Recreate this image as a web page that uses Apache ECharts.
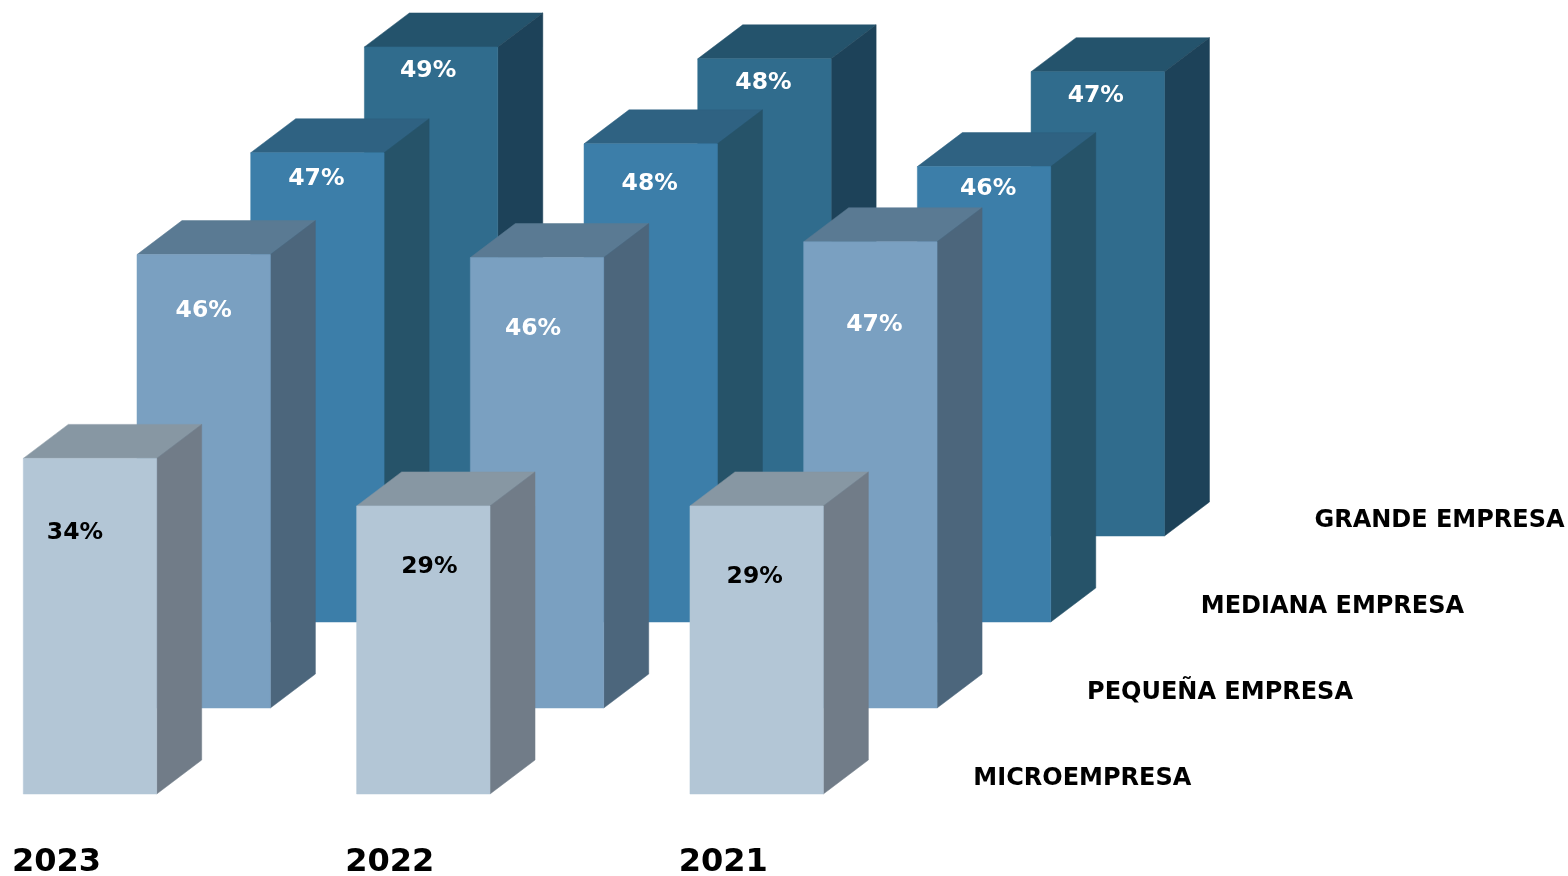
<!DOCTYPE html>
<html>
<head>
<meta charset="utf-8">
<style>html,body{margin:0;padding:0;background:#fff}#c{width:1568px;height:876px}</style>
<script src="https://cdn.jsdelivr.net/npm/echarts@6/dist/echarts.min.js"></script>
</head>
<body>
<div id="c"></div>
<script>
var years = ['2023', '2022', '2021'];
var microempresa = [33.9, 29.1, 29.1];
var pequena = [45.8, 45.5, 47.1];
var mediana = [47.4, 48.3, 46.0];
var grande = [49.4, 48.2, 46.9];

var seriesMeta = [
  {name: 'GRANDE EMPRESA', values: grande, depth: 3, front: '#306C8D', side: '#1D4259', top: '#24536C', text: '#fff',
   labelShift: [[-3, 24], [-1, 24], [-2, 24]]},
  {name: 'MEDIANA EMPRESA', values: mediana, depth: 2, front: '#3C7EA9', side: '#265369', top: '#2F6282', text: '#fff',
   labelShift: [[-1, 26], [-1, 40], [4, 22]]},
  {name: 'PEQUEÑA EMPRESA', values: pequena, depth: 1, front: '#7AA0C1', side: '#4C667C', top: '#5A7A93', text: '#fff',
   labelShift: [[0, 56], [-4, 71], [4, 83]]},
  {name: 'MICROEMPRESA', values: microempresa, depth: 0, front: '#B3C6D6', side: '#717C88', top: '#8797A3', text: '#000',
   labelShift: [[-15, 75], [6, 61], [-2, 71]]}
];

var BAR_W = 133.4, DX = 45, DY = 34, STEP_X = 113.7, STEP_Y = 86;
var FONT = '"DejaVu Sans", Verdana, sans-serif';

function renderer(meta) {
  return function (params, api) {
    var idx = api.value(0), val = api.value(1);
    var base = api.coord([idx, 0]), tip = api.coord([idx, val]);
    var ox = meta.depth * STEP_X, oy = -meta.depth * STEP_Y;
    var l = base[0] - BAR_W / 2 + ox, r = l + BAR_W;
    var b = base[1] + oy, t = tip[1] + oy;
    function poly(pts, fill) {
      return {type: 'polygon', shape: {points: pts}, style: {fill: fill, stroke: fill, lineWidth: 0.5}};
    }
    var shift = meta.labelShift[idx];
    var children = [
      poly([[l, t], [r, t], [r + DX, t - DY], [l + DX, t - DY]], meta.top),
      poly([[r, t], [r + DX, t - DY], [r + DX, b - DY], [r, b]], meta.side),
      poly([[l, t], [r, t], [r, b], [l, b]], meta.front),
      {type: 'text', style: {
        x: (l + r) / 2 + shift[0], y: t + shift[1], text: Math.round(val) + '%',
        fill: meta.text, font: 'bold 23.5px ' + FONT, align: 'center', verticalAlign: 'middle'
      }}
    ];
    if (idx === years.length - 1) {
      children.push({type: 'text', style: {
        x: r + 150, y: b - 15, text: meta.name, fill: '#000',
        font: 'bold 24px ' + FONT, align: 'left', verticalAlign: 'middle'
      }});
    }
    return {type: 'group', children: children};
  };
}

var chart = echarts.init(document.getElementById('c'), null, {renderer: 'canvas'});
chart.setOption({
  animation: false,
  backgroundColor: '#fff',
  tooltip: {show: false},
  grid: {left: -76.67, width: 1000, top: 2, height: 792, outerBoundsMode: 'none', containLabel: false},
  xAxis: {
    type: 'category', data: years,
    axisLine: {show: false}, axisTick: {show: false}, splitLine: {show: false},
    axisLabel: {color: '#000', fontFamily: FONT, fontWeight: 'bold', fontSize: 32, margin: 53,
      padding: [0, 67, 0, 0], interval: 0, hideOverlap: false}
  },
  yAxis: {type: 'value', min: 0, max: 80, show: false},
  series: seriesMeta.map(function (meta) {
    return {
      type: 'custom', name: meta.name, clip: false, silent: true,
      coordinateSystem: 'cartesian2d',
      encode: {x: 0, y: 1},
      data: meta.values.map(function (v, i) { return [i, v]; }),
      renderItem: renderer(meta)
    };
  })
});
</script>
</body>
</html>
